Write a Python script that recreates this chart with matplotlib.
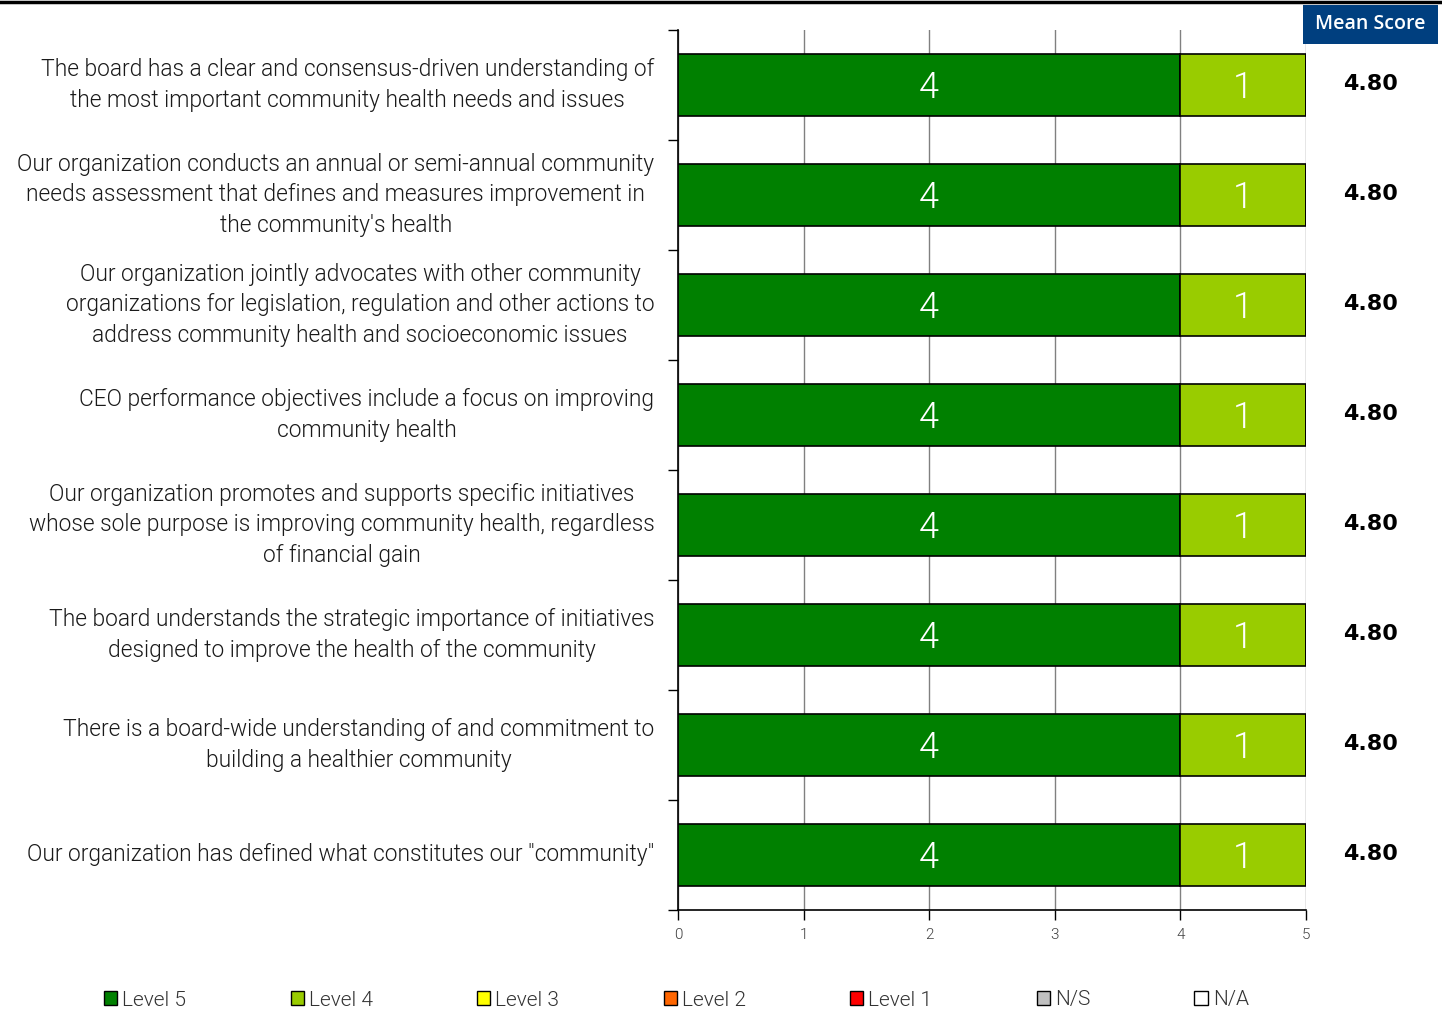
import matplotlib
matplotlib.use("Agg")
import matplotlib.pyplot as plt
from matplotlib.patches import Rectangle, Patch
from matplotlib.lines import Line2D
import numpy as np

categories = [
    "The board has a clear and consensus-driven understanding of\nthe most important community health needs and issues",
    "Our organization conducts an annual or semi-annual community\nneeds assessment that defines and measures improvement in\nthe community's health",
    "Our organization jointly advocates with other community\norganizations for legislation, regulation and other actions to\naddress community health and socioeconomic issues",
    "CEO performance objectives include a focus on improving\ncommunity health",
    "Our organization promotes and supports specific initiatives\nwhose sole purpose is improving community health, regardless\nof financial gain",
    "The board understands the strategic importance of initiatives\ndesigned to improve the health of the community",
    "There is a board-wide understanding of and commitment to\nbuilding a healthier community",
    "Our organization has defined what constitutes our \"community\"",
]
level_names = ["Level 5", "Level 4", "Level 3", "Level 2", "Level 1", "N/S", "N/A"]
level_colors = ["#008000", "#99cc00", "#ffff00", "#ff6600", "#ff0000", "#c0c0c0", "#ffffff"]
level5 = [4, 4, 4, 4, 4, 4, 4, 4]
level4 = [1, 1, 1, 1, 1, 1, 1, 1]
level3 = [0, 0, 0, 0, 0, 0, 0, 0]
level2 = [0, 0, 0, 0, 0, 0, 0, 0]
level1 = [0, 0, 0, 0, 0, 0, 0, 0]
ns = [0, 0, 0, 0, 0, 0, 0, 0]
na = [0, 0, 0, 0, 0, 0, 0, 0]
mean_scores = [4.80, 4.80, 4.80, 4.80, 4.80, 4.80, 4.80, 4.80]
x_ticks = [0, 1, 2, 3, 4, 5]

light_font = "Roboto"
LW = 300

fig = plt.figure(figsize=(14.42, 10.24), dpi=100)
ax = fig.add_axes([678/1442, 1-910/1024, 628/1442, 880/1024])

series = [level5, level4, level3, level2, level1, ns, na]
n = len(categories)
y = np.arange(n) + 0.5
left = np.zeros(n)
for vals, col in zip(series, level_colors):
    vals = np.array(vals, dtype=float)
    bars = ax.barh(y, vals, left=left, height=0.56, color=col, edgecolor="black",
                   linewidth=1.2, zorder=3)
    for b, v in zip(bars, vals):
        if v > 0:
            ax.text(b.get_x() + b.get_width()/2, b.get_y() + b.get_height()/2 + 0.03,
                    f"{int(v)}", ha="center", va="center", color="white", fontsize=26,
                    family=light_font, fontweight=LW, zorder=4)
    left += vals

ax.set_xlim(0, 5)
ax.set_ylim(n, 0)
ax.set_xticks(x_ticks)
ax.set_xticklabels([str(t) for t in x_ticks], family=light_font, fontweight=LW,
                   fontsize=11, color="#404040")
ax.set_yticks(y)
ax.set_yticklabels(categories, family=light_font, fontweight=LW, fontsize=16.4,
                   color="#1a1a1a", multialignment="center", linespacing=1.39)
for lab in ax.get_yticklabels():
    lab.set_va("center")
ax.set_yticks(np.arange(n + 1), minor=True)
ax.tick_params(axis="y", which="major", length=0, pad=17)
ax.tick_params(axis="y", which="minor", length=7, direction="out", width=1)
ax.tick_params(axis="x", which="major", length=7, direction="out", width=1, pad=6)
ax.grid(axis="x", color="#808080", linewidth=1, zorder=0)
ax.set_axisbelow(True)
for s in ["top", "right"]:
    ax.spines[s].set_visible(False)
for s in ["left", "bottom"]:
    ax.spines[s].set_linewidth(1.2)

# mean scores
for yi, m in zip(y, mean_scores):
    ax.text(1.102, yi - 0.01, f"{m:.2f}", transform=ax.get_yaxis_transform(),
            ha="center", va="center", fontsize=16, fontweight="bold", color="black",
            family="DejaVu Sans")

# header box
fig.patches.append(Rectangle((1303/1442, 1-44/1024), 135/1442, 39/1024,
                             transform=fig.transFigure, facecolor="#003f7f",
                             edgecolor="none"))
fig.text(1370/1442, 1-24/1024, "Mean Score", ha="center", va="center", color="white",
         fontsize=14, family="Open Sans", fontweight=600)

# top rule
fig.add_artist(Line2D([0, 1], [1-2/1024, 1-2/1024], transform=fig.transFigure,
                      color="black", linewidth=2.5))

handles = [Patch(facecolor=c, edgecolor="black", linewidth=1) for c in level_colors]
leg = fig.legend(handles, level_names, loc="center left", bbox_to_anchor=(104/1442, 1-1000/1024),
                 ncol=7, frameon=False, handlelength=0.63, handleheight=0.63,
                 handletextpad=0.25, columnspacing=5.0, borderaxespad=0, borderpad=0,
                 prop={"family": light_font, "size": 15, "weight": LW})
for t in leg.get_texts():
    t.set_color("#333333")

fig.savefig("out.png", dpi=100)
